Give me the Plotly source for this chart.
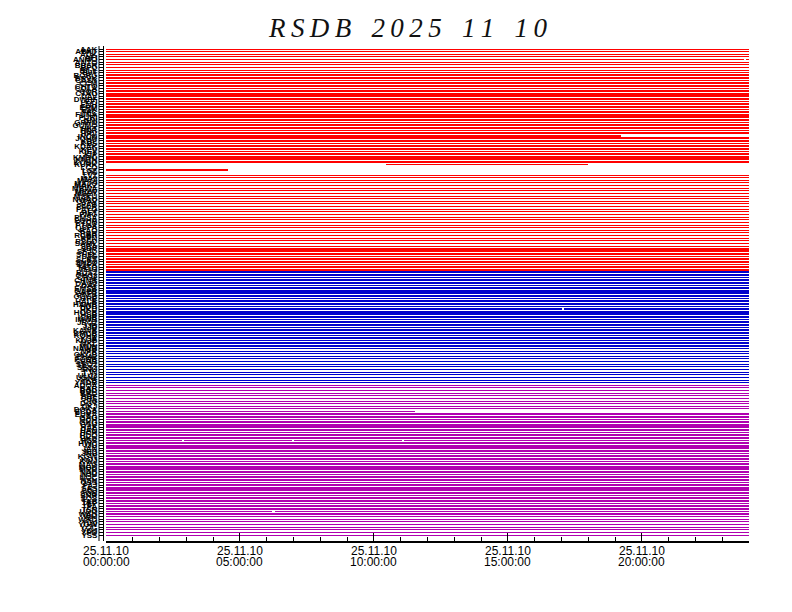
import plotly.graph_objects as go

# ---------------- data ----------------
title_words = ["RSDB", "2025", "11", "10"]
day_label = "25.11.10"
tick_hours = [0, 5, 10, 15, 20]
tick_times = ["00:00:00", "05:00:00", "10:00:00", "15:00:00", "20:00:00"]

# station codes, top to bottom (labels are illegible in the reference; estimated)
stations_net_a = (
    "AAK ABKT ADK AFI ANMO ANTO BBSR BFO BILL BJT BORG BRVK CASY CCM CHTO COLA "
    "COR CTAO DAV DWPF EFI ENH ERM ESK FFC FUNA FURI GNI GRFO GUMO HKT HNR HRV "
    "INCN JOHN KBL KBS KDAK KEV KIEV KIP KMBO KNTN KONO KURK LCO LSZ LVC LVZ MA2 "
    "MACI MAJO MAKZ MBWA MIDW MSEY MSKU NWAO OTAV PAB PALK PAYG PET PMG PMSA POHA "
    "PTCN PTGA QSPA RAO RAR RCBR RPN RSSD SAML SBA SDV SFJD SHEL SJG SLBS SNZO "
    "SSPA TATO TEIG"
).split()
stations_net_b = (
    "BUS2 CHC2 CHJ2 CHNB DAG2 DAY EMSB GAPB GKP1 GOCB GRE HALB HAWB HDB HKU HOCB "
    "HSB ICNB IMWB JEO2 JJB JJU KAWB KMCB KOHB KSA KUJB MKL MUN NAWB NPR OKCB "
    "PHA2 PORB SEHB SEO2 SES2 SNU TJN ULJ2 USN2 YKB YNDB"
).split()
stations_net_c = (
    "ADOA BAR BGD BRD BRF CHS CIG DGY DKJ DOKA ECDA EURA GAG GCH GKG GSU HAE HAN "
    "HCH HDO HKD HSS HWC IJU JAN JES JNU KGW KOJ KWJ MAG MGD MRD NAD NJU NOC "
    "NSN OSS PAJ SAS SDJ SGN SNR SOS TAB TEP TPA TSN UDO WAD WIJ WRD YGJ YGW "
    "YOC YOJ YPD YSS"
).split()
stations = stations_net_a + stations_net_b + stations_net_c
network_sizes = {"A": len(stations_net_a), "B": len(stations_net_b), "C": len(stations_net_c)}

# channel class runs (top to bottom): "BH" = broadband, "HH" = high rate
channel_runs = [("BH", 10), ("HH", 38), ("BH", 28), ("HH", 38), ("BH", 25), ("HH", 39), ("BH", 8)]

# data availability in hours of the day; rows not listed have the full day [0, 24]
availability = {
    4: [(0.0, 23.80), (23.87, 24.0)],
    33: [(0.0, 19.21)],
    44: [(10.45, 17.99)],
    45: [],
    46: [(0.0, 4.55)],
    47: [],
    99: [(0.0, 17.03), (17.08, 24.0)],
    138: [(0.0, 11.53)],
    149: [(0.0, 2.85), (2.90, 6.96), (7.01, 11.06), (11.11, 24.0)],
    176: [(0.0, 6.20), (6.30, 24.0)],
}

# ---------------- styling ----------------
net_colors = {"A": "#FF0000", "B": "#0000CC", "C": "#B000B0"}
chan_width = {"BH": 1.0, "HH": 1.7}

row_net = []
for k, n in network_sizes.items():
    row_net += [k] * n
row_chan = []
for c, n in channel_runs:
    row_chan += [c] * n
n_rows = min(len(stations), len(row_chan))

traces = {}
for i in range(n_rows):
    key = (row_net[i], row_chan[i])
    xs, ys = traces.setdefault(key, ([], []))
    for (s, e) in availability.get(i, [(0.0, 24.0)]):
        xs += [s, e, None]
        ys += [i, i, None]

fig = go.Figure()
for (net, ch), (xs, ys) in traces.items():
    fig.add_trace(go.Scatter(
        x=xs, y=ys, mode="lines",
        line=dict(color=net_colors[net], width=chan_width[ch]),
        hoverinfo="skip", showlegend=False,
    ))

# pixel geometry (page body has an 8px margin)
W, H = 784, 604
ml, mr, mt, mb = 95, 43, 38, 71
first_row_px, last_row_px = 41, 527
pitch = (last_row_px - first_row_px) / (n_rows - 1)
y_top = -(first_row_px - mt) / pitch
y_bot = ((H - mb) - first_row_px) / pitch
plot_w = W - ml - mr
xdom0 = 3 / plot_w

gap = "\u00a0\u00a0\u00a0"
spaced_title = gap.join("\u2009".join(w) for w in title_words)

fig.update_layout(
    width=W, height=H,
    margin=dict(l=ml, r=mr, t=mt, b=mb, pad=0, autoexpand=False),
    paper_bgcolor="white", plot_bgcolor="white",
    title=dict(
        text=spaced_title,
        x=400 / W, xanchor="center", xref="container",
        y=1 - 20 / H, yanchor="middle", yref="container",
        font=dict(family="Liberation Serif", size=27, color="#111111", style="italic"),
    ),
    xaxis=dict(
        domain=[xdom0, 1], range=[0, 24], showgrid=False, zeroline=False,
        showline=True, linecolor="black", linewidth=2,
        tickmode="array", tickvals=tick_hours, showticklabels=False,
        ticks="inside", ticklen=8, tickwidth=1, tickcolor="black",
        minor=dict(dtick=1, tick0=0, ticks="inside", ticklen=4, tickwidth=1,
                   tickcolor="black", showgrid=False),
    ),
    yaxis=dict(
        anchor="free", position=0, range=[y_bot, y_top],
        showgrid=False, zeroline=False,
        showline=True, linecolor="black", linewidth=1,
        tickmode="array", tickvals=list(range(n_rows)), ticktext=stations[:n_rows],
        ticks="outside", ticklen=4, tickwidth=1, tickcolor="black",
        tickfont=dict(family="Liberation Sans", size=8, color="black", weight="bold"),
    ),
)

fig.add_shape(type="line", xref="paper", yref="paper",
              x0=-4 / plot_w, x1=-4 / plot_w, y0=0, y1=1,
              line=dict(color="black", width=1))

for h, t in zip(tick_hours, tick_times):
    fig.add_annotation(x=h, y=0, xref="x", yref="paper", text=day_label, showarrow=False,
                       xanchor="center", yanchor="top", yshift=-1,
                       font=dict(family="Liberation Sans", size=12, color="black"))
    fig.add_annotation(x=h, y=0, xref="x", yref="paper", text=t, showarrow=False,
                       xanchor="center", yanchor="top", yshift=-12,
                       font=dict(family="Liberation Sans", size=12, color="black"))

crisp_js = ("document.querySelectorAll('.scatterlayer .js-line').forEach("
            "function(p){p.style.shapeRendering='crispEdges';});")
fig.write_html("out.html", post_script=crisp_js)
